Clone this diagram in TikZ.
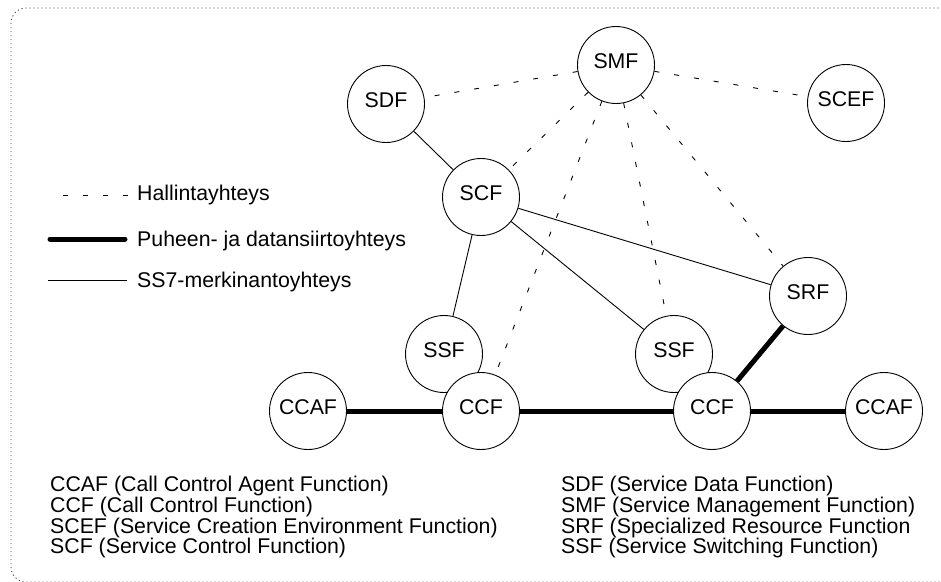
\documentclass[tikz,border=0pt]{standalone}
\usepackage{fontspec}
\setmainfont{Liberation Sans}
\begin{document}
\begin{tikzpicture}[x=1pt,y=-1pt,
  fn/.style={circle,draw,fill=white,line width=0.9pt,minimum size=77pt,inner sep=0pt,
    text height=15.3pt,text depth=7.5pt,font=\fontsize{21.3}{21}\selectfont},
  mgmt/.style={line width=0.9pt,dash pattern=on 5pt off 15pt},
  ss7/.style={line width=0.9pt},
  voice/.style={line width=5pt},
  txt/.style={inner sep=0pt,anchor=base west,font=\fontsize{21.3}{21}\selectfont},
  frame/.style={draw=black!70,line width=0.9pt,dash pattern=on 1.2pt off 2.8pt,rounded corners=15pt}]
\useasboundingbox (0,0) rectangle (941,581);
\begin{scope}
\clip (0,0) rectangle (941,581);
\draw[frame] (11,8) rectangle (990,582);
\end{scope}

% function nodes
\node[fn] (smf)   at (616,65)  {SMF};
\node[fn] (sdf)   at (386,104) {SDF};
\node[fn] (scef)  at (846,103) {SCEF};
\node[fn] (scf)   at (481,197) {SCF};
\node[fn] (srf)   at (808,296) {SRF};
\node[fn] (ssfl)  at (444,354) {SSF};
\node[fn] (ssfr)  at (674,354) {SSF};
\node[fn] (ccafl) at (308,411) {CCAF};
\node[fn] (ccfl)  at (481,411) {CCF};
\node[fn] (ccfr)  at (712,411) {CCF};
\node[fn] (ccafr) at (884,411) {CCAF};

% management (dashed)
\draw[mgmt] (smf) -- (sdf);
\draw[mgmt] (smf) -- (scef);
\draw[mgmt] (smf) -- (scf);
\draw[mgmt] (smf) -- (ccfl);
\draw[mgmt] (smf) -- (ssfr);
\draw[mgmt] (smf) -- (srf);

% SS7 signalling (thin)
\draw[ss7] (sdf) -- (scf);
\draw[ss7] (scf) -- (ssfl);
\draw[ss7] (scf) -- (ssfr);
\draw[ss7] (scf) -- (srf);

% voice and data (thick)
\draw[voice] (ccafl) -- (ccfl);
\draw[voice] (ccfl) -- (ccfr);
\draw[voice] (ccfr) -- (ccafr);
\draw[voice] (ccfr) -- (srf);

% legend
\coordinate (la1) at (63,195);  \coordinate (la2) at (128,195);
\coordinate (lb1) at (50,239);  \coordinate (lb2) at (125,239);
\coordinate (lc1) at (48,280);  \coordinate (lc2) at (127,280);
\draw[mgmt] (la1) -- (la2);
\draw[voice,line cap=round] (lb1) -- (lb2);
\draw[ss7] (lc1) -- (lc2);
\node[txt,anchor=west] (ta) at (137,195) {\vphantom{H}Hallintayhteys};
\node[txt,anchor=base west] (tb) at (137,246) {Puheen- ja datansiirtoyhteys};
\node[txt,anchor=base west] (tc) at (137,287) {SS7-merkinantoyhteys};

% abbreviations
\node[txt] (a1) at (50,491) {CCAF (Call Control Agent Function)};
\node[txt] (a2) at (50,512) {CCF (Call Control Function)};
\node[txt] (a3) at (50,533) {SCEF (Service Creation Environment Function)};
\node[txt] (a4) at (50,553) {SCF (Service Control Function)};
\node[txt] (b1) at (561,491) {SDF (Service Data Function)};
\node[txt] (b2) at (561,512) {SMF (Service Management Function)};
\node[txt] (b3) at (561,533) {SRF (Specialized Resource Function};
\node[txt] (b4) at (561,553) {SSF (Service Switching Function)};
\end{tikzpicture}
\end{document}
